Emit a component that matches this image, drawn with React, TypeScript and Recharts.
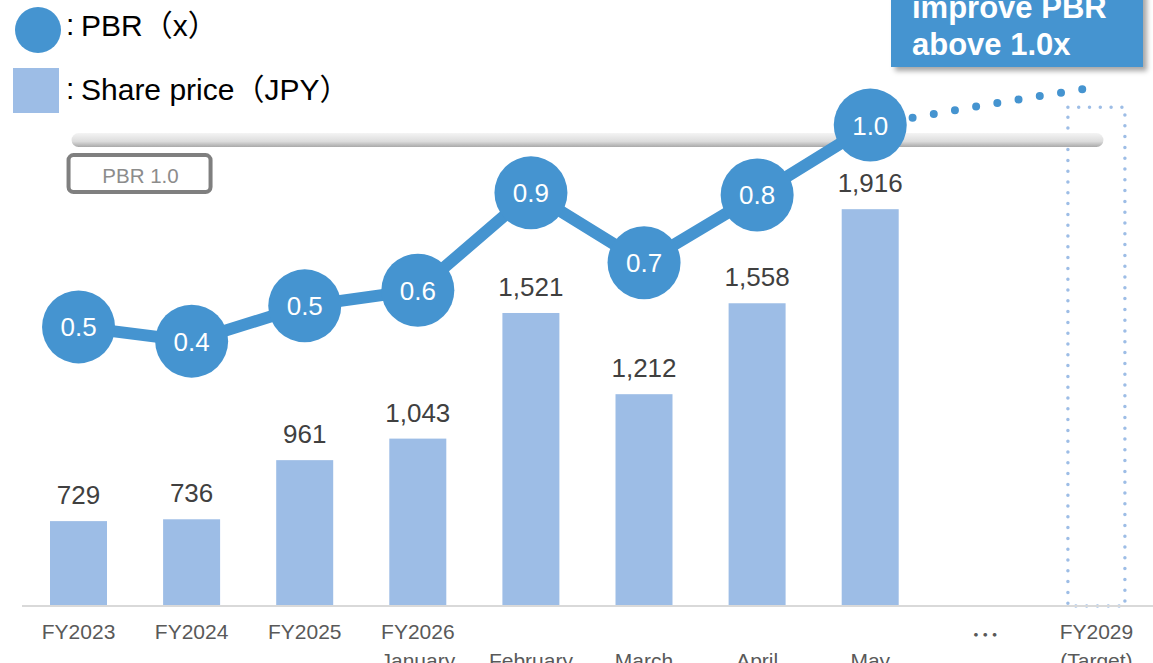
import React from "react";
import {
  ComposedChart,
  Bar,
  Line,
  XAxis,
  YAxis,
  LabelList,
  ReferenceLine,
} from "recharts";

const BLUE = "#4594d0";
const BAR = "#9dbde6";
const FONT = '"Liberation Sans", Arial, "Noto Sans CJK JP", sans-serif';

const periodTop = ["FY2023", "FY2024", "FY2025", "FY2026", "", "", "", "", "⋯", "FY2029"];
const periodBottom = ["", "", "", "January", "February", "March", "April", "May", "", "(Target)"];
const sharePrice = [729, 736, 961, 1043, 1521, 1212, 1558, 1916, null, null];
const targetFrame = [null, null, null, null, null, null, null, null, null, 2304];
// printed PBR figure and the height the marker sits at in the original
const pbrLabel = ["0.5", "0.4", "0.5", "0.6", "0.9", "0.7", "0.8", "1.0", null, null];
const pbrLevel = [0.433, 0.393, 0.492, 0.536, 0.809, 0.613, 0.803, 0.999, null, null];
const pbrOutlook = [null, null, null, null, null, null, null, 0.999, 1.055, 1.106];
const PBR_LINE = 0.957;

const data = periodTop.map((top, i) => ({
  name: `${top} ${periodBottom[i]}`.trim() || `p${i}`,
  price: sharePrice[i],
  frame: targetFrame[i],
  pbr: pbrLevel[i],
  outlook: pbrOutlook[i],
}));

const fmt = (v: any) => (v == null ? "" : Number(v).toLocaleString("en-US"));

function PeriodTick(props: any) {
  const { x, y, index } = props;
  const isGap = periodTop[index] === "⋯";
  return (
    <g fontFamily={FONT} fontSize={21} fill="#595959" textAnchor="middle">
      {periodTop[index] ? (
        <text x={x + (isGap ? 2 : 0)} y={y + (isGap ? 32 : 25)} fontSize={isGap ? 28 : 21}>
          {periodTop[index]}
        </text>
      ) : null}
      {periodBottom[index] ? (
        <text x={x} y={y + 54}>{periodBottom[index]}</text>
      ) : null}
    </g>
  );
}

function BarShape(props: any) {
  const { x, y, width, height, payload } = props;
  if (payload.frame != null) {
    return (
      <rect
        x={x}
        y={y}
        width={width}
        height={height}
        fill="none"
        stroke={BAR}
        strokeWidth={3.5}
        strokeDasharray="0 10.8"
        strokeLinecap="round"
      />
    );
  }
  return <rect x={x} y={y} width={width} height={height} fill={BAR} />;
}

function PbrDot(props: any) {
  const { cx, cy, index } = props;
  if (cx == null || cy == null || pbrLabel[index] == null) return <g key={index} />;
  return (
    <g key={index}>
      <circle cx={cx} cy={cy} r={36.5} fill={BLUE} />
      <text
        x={cx}
        y={cy + 9.5}
        textAnchor="middle"
        fill="#fff"
        fontSize={26}
        fontFamily={FONT}
      >
        {pbrLabel[index]}
      </text>
    </g>
  );
}

function PbrTag(props: any) {
  const { viewBox } = props;
  const x = viewBox.x - 10;
  const y = viewBox.y + 15;
  return (
    <g>
      <rect x={x} y={y} width={142} height={37} rx={5} fill="#fff" stroke="#7f7f7f" strokeWidth={4} />
      <text x={x + 72} y={y + 28} textAnchor="middle" fill="#8c8c8c" fontSize={20.5} fontFamily={FONT}>
        PBR 1.0
      </text>
    </g>
  );
}

export default function App() {
  return (
    <div style={{ position: "relative", width: 1153, height: 663, overflow: "hidden", fontFamily: FONT }}>
      <style>{`body{margin:0}`}</style>
      <ComposedChart
        width={1153}
        height={663}
        data={data}
        margin={{ top: 0, right: 0, left: 22, bottom: 0 }}
      >
        <defs>
          <linearGradient id="pbrBand" x1="0" y1="133" x2="0" y2="147" gradientUnits="userSpaceOnUse">
            <stop offset="0" stopColor="#f4f4f4" />
            <stop offset="0.6" stopColor="#dcdcdc" />
            <stop offset="1" stopColor="#a9a9a9" />
          </linearGradient>
        </defs>
        <XAxis
          dataKey="name"
          interval={0}
          height={57}
          tickLine={false}
          axisLine={{ stroke: "#d9d9d9", strokeWidth: 2 }}
          tick={<PeriodTick />}
        />
        <YAxis yAxisId="price" hide domain={[406, 2712]} />
        <YAxis yAxisId="pbr" hide domain={[-0.35, 1.35]} />
        <ReferenceLine
          yAxisId="pbr"
          segment={[
            { x: data[0].name, y: PBR_LINE },
            { x: data[data.length - 1].name, y: PBR_LINE },
          ]}
          stroke="url(#pbrBand)"
          strokeWidth={14}
          strokeLinecap="round"
          label={<PbrTag />}
        />
        <Bar
          yAxisId="price"
          dataKey={(d: any) => d.price ?? d.frame}
          barSize={57}
          shape={<BarShape />}
          isAnimationActive={false}
        >
          <LabelList
            dataKey="price"
            position="top"
            offset={17}
            formatter={fmt}
            fill="#404040"
            fontSize={26}
            fontFamily={FONT}
          />
        </Bar>
        <Line
          yAxisId="pbr"
          dataKey="outlook"
          stroke={BLUE}
          strokeWidth={8}
          strokeDasharray="0 21.5"
          strokeLinecap="round"
          dot={false}
          activeDot={false}
          isAnimationActive={false}
        />
        <Line
          yAxisId="pbr"
          dataKey="pbr"
          stroke={BLUE}
          strokeWidth={12}
          dot={<PbrDot />}
          activeDot={false}
          isAnimationActive={false}
        />
      </ComposedChart>

      <div style={{ position: "absolute", left: 15, top: 7, width: 46, height: 46, borderRadius: "50%", background: BLUE }} />
      <div style={{ position: "absolute", left: 66, top: 7, fontSize: 30, lineHeight: "36px", color: "#000" }}>:</div>
      <div style={{ position: "absolute", left: 81, top: 8, fontSize: 30, lineHeight: "36px", color: "#000" }}>
        PBR（x）
      </div>
      <div style={{ position: "absolute", left: 13, top: 68, width: 46, height: 45, background: BAR }} />
      <div style={{ position: "absolute", left: 66, top: 71, fontSize: 30, lineHeight: "36px", color: "#000" }}>:</div>
      <div style={{ position: "absolute", left: 81, top: 72, fontSize: 30, lineHeight: "36px", color: "#000" }}>
        Share price（JPY）
      </div>

      <div
        style={{
          position: "absolute",
          left: 891,
          top: -30,
          width: 252,
          height: 97,
          background: BLUE,
          boxShadow: "4px 4px 5px rgba(0,0,0,0.35)",
          color: "#fff",
          fontWeight: "bold",
          fontSize: 31,
          lineHeight: "37px",
          paddingLeft: 21,
          boxSizing: "border-box",
          paddingTop: 19,
        }}
      >
        improve PBR
        <br />
        above 1.0x
      </div>
    </div>
  );
}
